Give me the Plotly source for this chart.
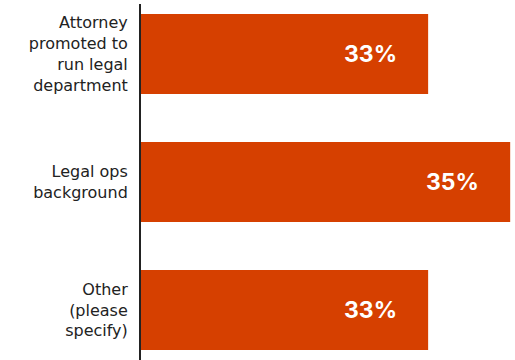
import plotly.graph_objects as go

# Survey responses: background of the person leading legal operations
categories = [
    "Attorney<br>promoted to<br>run legal<br>department",
    "Legal ops<br>background",
    "Other<br>(please<br>specify)",
]
shares = [33, 35, 33]
share_labels = ["33%", "35%", "33%"]

bar_color = "#D64000"

fig = go.Figure(
    go.Bar(
        x=shares,
        y=categories,
        orientation="h",
        marker=dict(color=bar_color, line=dict(width=0)),
        hoverinfo="skip",
    )
)

# Value labels set just inside the end of each bar
for cat, val, lab in zip(categories, shares, share_labels):
    fig.add_annotation(
        x=val, y=cat, text=lab, showarrow=False,
        xanchor="center", yanchor="middle", xshift=-58,
        font=dict(family="Inter", size=23, color="white", weight="bold"),
    )

fig.update_layout(
    width=515, height=360,
    margin=dict(l=141, r=4, t=4, b=0),
    paper_bgcolor="white", plot_bgcolor="white",
    bargap=0.375,
    showlegend=False,
    xaxis=dict(range=[26, 35.02], visible=False, showgrid=False, zeroline=False),
    yaxis=dict(
        range=[2.39, -0.39],
        showline=True, linecolor="#222222", linewidth=2,
        showgrid=False, zeroline=False,
        ticks="", ticklabelstandoff=8,
        tickfont=dict(family="DejaVu Sans", size=16, color="#222222"),
    ),
)

fig.write_html("out.html")
